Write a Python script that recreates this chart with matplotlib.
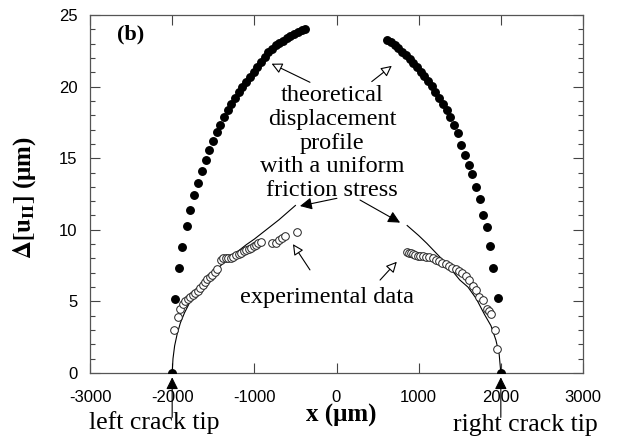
import matplotlib
matplotlib.use("Agg")
import matplotlib.pyplot as plt

# ---- data ----
theory_left_x = [-2000, -1965, -1916, -1876, -1815, -1779, -1730, -1689, -1640, -1588,
                 -1547, -1506, -1460, -1415, -1370, -1325, -1280, -1235, -1190, -1145,
                 -1100, -1055, -1010, -965, -920, -875, -830, -785, -740, -695,
                 -650, -605, -560, -515, -470, -425, -380]
theory_left_y = [0.0, 5.2, 7.3, 8.8, 10.3, 11.4, 12.4, 13.3, 14.1, 14.9,
                 15.6, 16.2, 16.8, 17.35, 17.85, 18.35, 18.8, 19.2, 19.6, 19.95,
                 20.3, 20.65, 21.0, 21.35, 21.7, 22.05, 22.4, 22.65, 22.9, 23.05,
                 23.2, 23.37, 23.52, 23.68, 23.82, 23.95, 24.05]

theory_right_x = [619, 664, 709, 754, 799, 844, 889, 934, 979, 1024,
                  1069, 1114, 1159, 1204, 1249, 1294, 1339, 1384, 1429, 1474,
                  1519, 1564, 1609, 1654, 1699, 1744, 1789, 1830, 1867, 1908,
                  1961, 2005]
theory_right_y = [23.25, 23.1, 22.9, 22.7, 22.45, 22.2, 21.95, 21.65, 21.35, 21.05,
                  20.75, 20.4, 20.05, 19.65, 19.2, 18.8, 18.35, 17.9, 17.35, 16.75,
                  15.95, 15.25, 14.55, 13.9, 13.0, 12.15, 11.05, 10.2, 8.9, 7.35,
                  5.25, 0.0]

exp_left_x = [-1975, -1935, -1905, -1870, -1840, -1810, -1780, -1750, -1720, -1690,
              -1660, -1630, -1600, -1570, -1540, -1510, -1480, -1450, -1410, -1380,
              -1350, -1320, -1290, -1255, -1220, -1190, -1160, -1130, -1100, -1070,
              -1040, -1010, -980, -950, -920, -780, -740, -700, -660, -625, -485]
exp_left_y = [3.0, 3.9, 4.5, 4.8, 5.0, 5.15, 5.3, 5.45, 5.6, 5.75,
              5.95, 6.15, 6.35, 6.55, 6.7, 6.85, 7.05, 7.25, 7.9, 8.0,
              8.0, 8.0, 8.05, 8.1, 8.25, 8.3, 8.4, 8.5, 8.6, 8.65,
              8.75, 8.85, 8.95, 9.05, 9.15, 9.1, 9.1, 9.3, 9.45, 9.6, 9.85]

exp_right_x = [856, 880, 905, 930, 960, 990, 1020, 1050, 1090, 1130,
               1170, 1210, 1250, 1290, 1330, 1370, 1410, 1450, 1490, 1530,
               1570, 1610, 1660, 1700, 1740, 1780, 1830, 1860, 1880, 1930, 1955]
exp_right_y = [8.45, 8.4, 8.35, 8.3, 8.25, 8.2, 8.2, 8.15, 8.1, 8.1,
               8.0, 7.9, 7.8, 7.7, 7.6, 7.45, 7.35, 7.25, 7.1, 6.95,
               6.75, 6.5, 6.1, 5.8, 5.3, 5.1, 4.5, 4.3, 4.1, 3.0, 1.7]

fit_left_x = [-2000, -1990, -1970, -1940, -1900, -1850, -1780, -1700, -1600, -1500,
              -1400, -1300, -1200, -1100, -1000, -900, -800, -700, -600, -500]
fit_left_y = [0.0, 1.0, 1.9, 2.7, 3.5, 4.2, 5.0, 5.7, 6.4, 7.0,
              7.55, 8.05, 8.5, 8.95, 9.35, 9.8, 10.25, 10.7, 11.2, 11.7]

fit_right_x = [860, 900, 1000, 1100, 1200, 1300, 1400, 1500, 1600, 1700,
               1800, 1880, 1940, 1980, 2000]
fit_right_y = [10.3, 10.1, 9.6, 9.05, 8.45, 7.85, 7.2, 6.5, 6.0, 5.2,
               4.1, 3.3, 2.3, 1.3, 0.0]

x_ticks = [-3000, -2000, -1000, 0, 1000, 2000, 3000]
y_ticks = [0, 5, 10, 15, 20, 25]

plt.rcParams['mathtext.fontset'] = 'stix'
SERIF = 'Liberation Serif'
SANS = 'Liberation Sans'

fig = plt.figure(figsize=(6.21, 4.43), dpi=100)
ax = fig.add_axes([90/621, 1-373/443, 493/621, 358/443])

# theoretical profile (filled dots)
ax.plot(theory_left_x, theory_left_y, 'o', color='black', ms=5.4, mec='black', zorder=3)
ax.plot(theory_right_x, theory_right_y, 'o', color='black', ms=5.4, mec='black', zorder=3)
# fitted curve
ax.plot(fit_left_x, fit_left_y, '-', color='black', lw=0.8, zorder=2)
ax.plot(fit_right_x, fit_right_y, '-', color='black', lw=0.8, zorder=2)
# experimental data (open circles)
ax.plot(exp_left_x, exp_left_y, 'o', mfc='white', mec='#222222', mew=0.7, ms=5.5, zorder=4)
ax.plot(exp_right_x, exp_right_y, 'o', mfc='white', mec='#222222', mew=0.7, ms=5.5, zorder=4)

ax.set_xlim(-3000, 3000)
ax.set_ylim(0, 25)
ax.set_xticks(x_ticks)
ax.set_xticklabels([str(v) for v in x_ticks], fontfamily=SANS, fontsize=12)
ax.set_yticks(y_ticks)
ax.set_yticklabels([str(v) for v in y_ticks], fontfamily=SANS, fontsize=12)
ax.set_yticks([v for v in range(0, 26) if v % 5 != 0], minor=True)
ax.tick_params(axis='both', which='major', direction='in', length=7, width=0.8,
               color='#444444', top=True, right=True)
ax.tick_params(axis='y', which='minor', direction='in', length=3.5, width=0.8,
               color='#444444', right=True, left=True)
ax.tick_params(axis='x', which='major', pad=12)
ax.tick_params(axis='y', which='major', pad=9)
for s in ax.spines.values():
    s.set_color('#555555')
    s.set_linewidth(0.9)

ax.set_xlabel('x (μm)', fontfamily=SERIF, fontweight='bold', fontsize=18)
ax.xaxis.set_label_coords((341-90)/493, (373-404)/358)
ax.set_ylabel(r'$\mathbf{\Delta[u_{II}]}$ (μm)', fontfamily=SERIF, fontweight='bold', fontsize=18)
ax.yaxis.set_label_coords((38-90)/493, 0.49)

ax.text(-2500, 23.65, '(b)', fontfamily=SERIF, fontweight='bold', fontsize=16,
        ha='center', va='center')

ax.text(-55, 16.05, 'theoretical\ndisplacement\nprofile\nwith a uniform\nfriction stress',
        fontfamily=SERIF, fontsize=17.5, ha='center', va='center', linespacing=1.17,
        zorder=5)
ax.text(-115, 5.25, 'experimental data', fontfamily=SERIF, fontsize=17.5,
        ha='center', va='center', zorder=5)

hollow = dict(arrowstyle='-|>', fc='white', ec='black', lw=0.8, mutation_scale=16,
              shrinkA=0, shrinkB=0)
filled = dict(arrowstyle='-|>', fc='black', ec='black', lw=0.8, mutation_scale=18,
              shrinkA=0, shrinkB=0)

ax.annotate('', xy=(-790, 21.6), xytext=(-323, 20.3), arrowprops=hollow)
ax.annotate('', xy=(673, 21.45), xytext=(429, 20.35), arrowprops=hollow)
ax.annotate('', xy=(-445, 11.66), xytext=(5, 12.2), arrowprops=filled)
ax.annotate('', xy=(774, 10.5), xytext=(286, 12.08), arrowprops=filled)
ax.annotate('', xy=(-530, 9.0), xytext=(-323, 7.2), arrowprops=hollow)
ax.annotate('', xy=(734, 7.77), xytext=(530, 6.49), arrowprops=hollow)

ax.annotate('', xy=(-2000, -0.3), xytext=(-2000, -3.1), arrowprops=filled,
            annotation_clip=False)
ax.annotate('', xy=(2000, -0.3), xytext=(2000, -3.1), arrowprops=filled,
            annotation_clip=False)
ax.text(-2213, -3.45, 'left crack tip', fontfamily=SERIF, fontsize=18.5,
        ha='center', va='center', clip_on=False)
ax.text(2298, -3.6, 'right crack tip', fontfamily=SERIF, fontsize=18.5,
        ha='center', va='center', clip_on=False)

fig.savefig('out.png', dpi=100)
